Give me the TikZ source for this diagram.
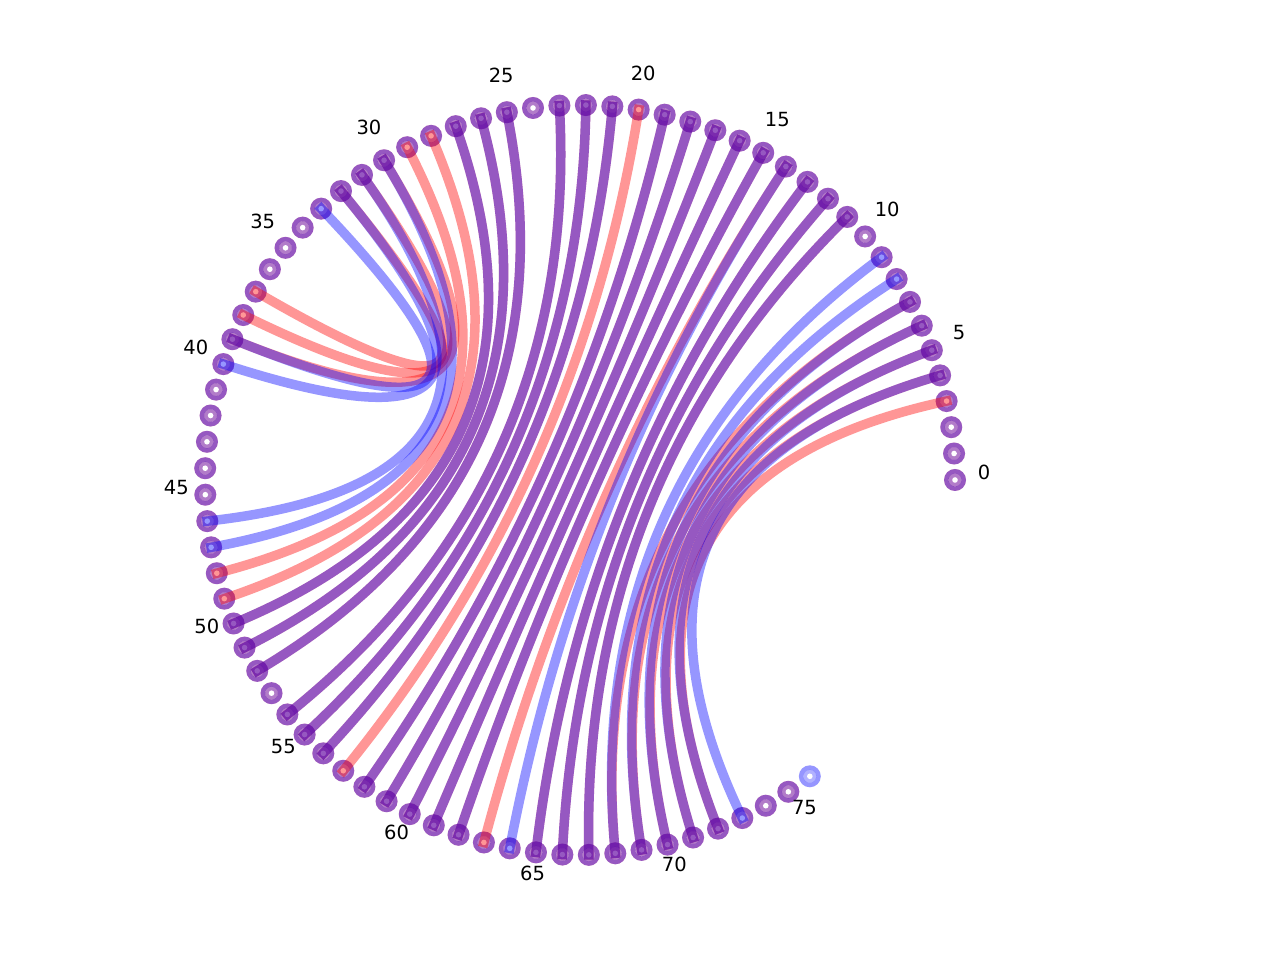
\documentclass[tikz,border=0pt]{standalone}
\usepackage{fontspec}
\setmainfont{DejaVu Sans}
\usetikzlibrary{calc}

\begin{document}
\begin{tikzpicture}[
        x=1pt, y=1pt,
        red-link/.style={draw=red, draw opacity=0.41, line width=9.5pt, line cap=rect},
        blue-link/.style={draw=blue, draw opacity=0.41, line width=9.5pt, line cap=rect},
        ring/.style={fill opacity=0.41, even odd rule},
        face/.style={fill opacity=0.3},
        hole/.style={fill=white},
        tick-label/.style={font=\fontsize{19.5}{20}\selectfont, inner sep=0pt},
    ]
        \useasboundingbox (0,0) rectangle (1280,960);
        \coordinate (ctr) at (580,480);
        \coordinate (lctr) at (580,488);

        % Bases on the circle
        \foreach \k in {0,...,76} {
            \path (ctr) ++({\k*4.05}:375) coordinate (n\k);
        }

        % Red structure bases 0-75
        \foreach \k in {0,...,75} {
            \fill[red, ring] (n\k) circle (11pt) circle (6.5pt);
            \fill[red, face] (n\k) circle (6.5pt);
        }
        % Blue structure bases 0-76
        \foreach \k in {0,...,76} {
            \fill[blue, ring] (n\k) circle (11pt) circle (6.5pt);
            \fill[blue, face] (n\k) circle (6.5pt);
        }
        \foreach \k in {0,...,76}
            \fill[hole] (n\k) circle (2.8pt);

        % Red pairs
        \foreach \i/\j in {3/72, 4/71, 5/70, 6/69, 7/68, 11/67, 12/66, 13/65, 14/63,
                15/62, 16/61, 17/60, 18/59, 19/58, 20/57, 21/56, 22/55, 23/54,
                25/52, 26/51, 27/50, 28/49, 29/48, 30/39, 31/38, 32/37}
            \draw[red-link] (n\i) .. controls ($(n\i)!0.6667!(ctr)$) and ($(n\j)!0.6667!(ctr)$) .. (n\j);

        % Blue pairs
        \foreach \i/\j in {4/73, 5/72, 6/71, 7/70, 8/69, 9/68, 11/67, 12/66, 13/65, 14/64,
                15/62, 16/61, 17/60, 18/59, 19/58, 21/56, 22/55, 23/54,
                25/52, 26/51, 27/50, 30/47, 31/46, 32/40, 33/39}
            \draw[blue-link] (n\i) .. controls ($(n\i)!0.6667!(ctr)$) and ($(n\j)!0.6667!(ctr)$) .. (n\j);

        % Index labels
        \foreach \k in {0,5,...,75}
            \path (lctr) ++({\k*4.05}:404) node[tick-label] (l\k) {\k};
\end{tikzpicture}
\end{document}
